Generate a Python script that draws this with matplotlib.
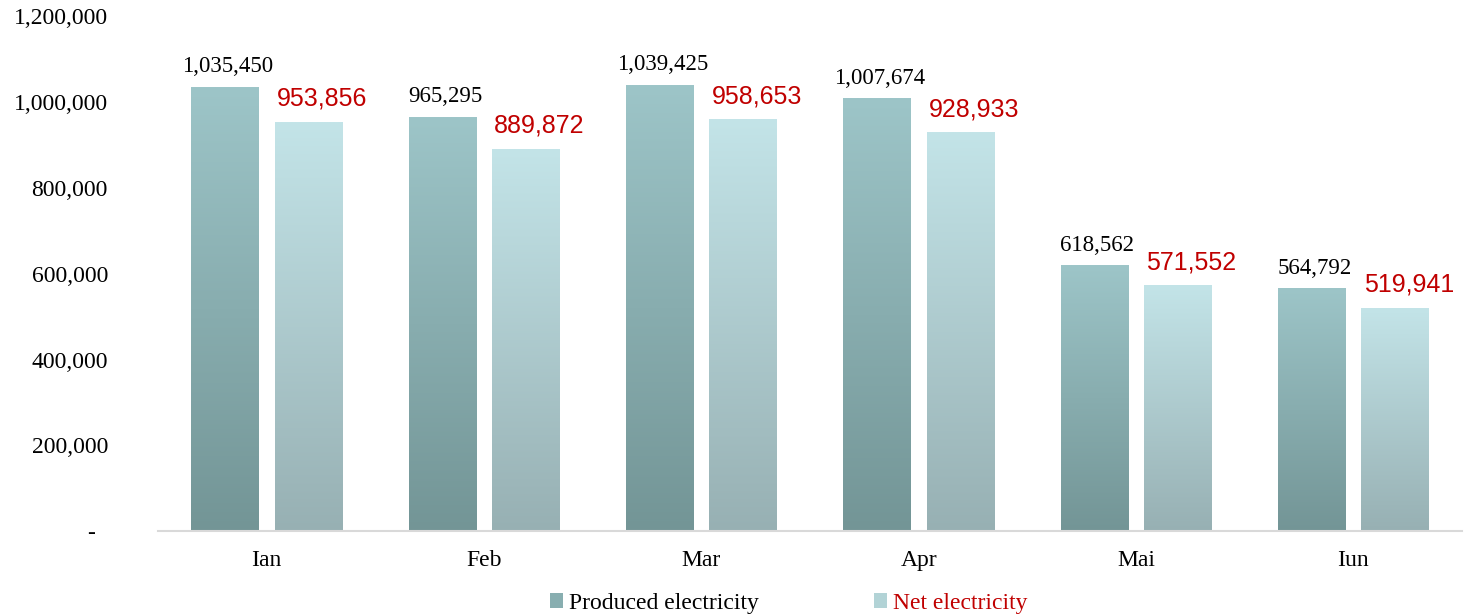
import numpy as np
import matplotlib.pyplot as plt
from matplotlib.colors import LinearSegmentedColormap
from matplotlib.patches import Patch

months = ['Ian', 'Feb', 'Mar', 'Apr', 'Mai', 'Iun']
produced = [1035450, 965295, 1039425, 1007674, 618562, 564792]
net = [953856, 889872, 958653, 928933, 571552, 519941]
yticks = [0, 200000, 400000, 600000, 800000, 1000000, 1200000]

serif = ['Liberation Serif', 'DejaVu Serif']
sans = ['Liberation Sans', 'DejaVu Sans']
red = '#C00000'

fig = plt.figure(figsize=(14.65, 6.16), dpi=100)
ax = fig.add_axes([158/1465, 85/616, 1304/1465, 514.5/616])

x = np.arange(len(months))
w = 0.309
off = (w + 16/217) / 2

# gradient colour maps: bottom -> top
cm_prod = LinearSegmentedColormap.from_list('prod', ['#739596', '#9DC5C8'])
cm_net = LinearSegmentedColormap.from_list('net', ['#97B0B3', '#C3E4E8'])
grad = np.linspace(0, 1, 256).reshape(-1, 1)

b1 = ax.bar(x - off, produced, w, color='none', zorder=2)
b2 = ax.bar(x + off, net, w, color='none', zorder=2)
for bars, cmap in [(b1, cm_prod), (b2, cm_net)]:
    for r in bars:
        x0, h, bw = r.get_x(), r.get_height(), r.get_width()
        ax.imshow(grad, extent=[x0, x0 + bw, 0, h], origin='lower',
                  aspect='auto', cmap=cmap, zorder=2)

for r, v in zip(b1, produced):
    ax.annotate(f'{v:,}', (r.get_x() + r.get_width()/2, v), xytext=(2, 11),
                textcoords='offset points', ha='center', va='baseline',
                fontsize=16.5, family=serif, color='black')
for r, v in zip(b2, net):
    ax.annotate(f'{v:,}', (r.get_x() + r.get_width()/2, v), xytext=(10, 12),
                textcoords='offset points', ha='center', va='baseline',
                fontsize=18, family=sans, color=red)

ax.set_xlim(-0.5, len(months) - 0.5)
ax.set_ylim(0, 1200000)
ax.set_xticks(x)
ax.set_xticklabels(months, family=serif, fontsize=17)
ax.set_yticks(yticks)
ax.set_yticklabels(['-  '] + [f'{v:,}' for v in yticks[1:]], family=serif, fontsize=17)
ax.tick_params(axis='both', length=0)
ax.tick_params(axis='y', pad=36)
ax.tick_params(axis='x', pad=14)
for s in ['top', 'right', 'left']:
    ax.spines[s].set_visible(False)
ax.spines['bottom'].set_color('#D9D9D9')
ax.spines['bottom'].set_linewidth(1.5)

handles = [Patch(facecolor='#88AEB0', label='Produced electricity'),
           Patch(facecolor='#B2D3D6', label='Net electricity')]
leg = fig.legend(handles=handles, loc='lower center', bbox_to_anchor=(0.5385, -0.031),
                 ncol=2, frameon=False, handlelength=0.55, handleheight=0.55,
                 handletextpad=0.25, columnspacing=4.9,
                 prop={'family': serif, 'size': 17})
leg.get_texts()[1].set_color(red)

fig.savefig('out.png', dpi=100)
